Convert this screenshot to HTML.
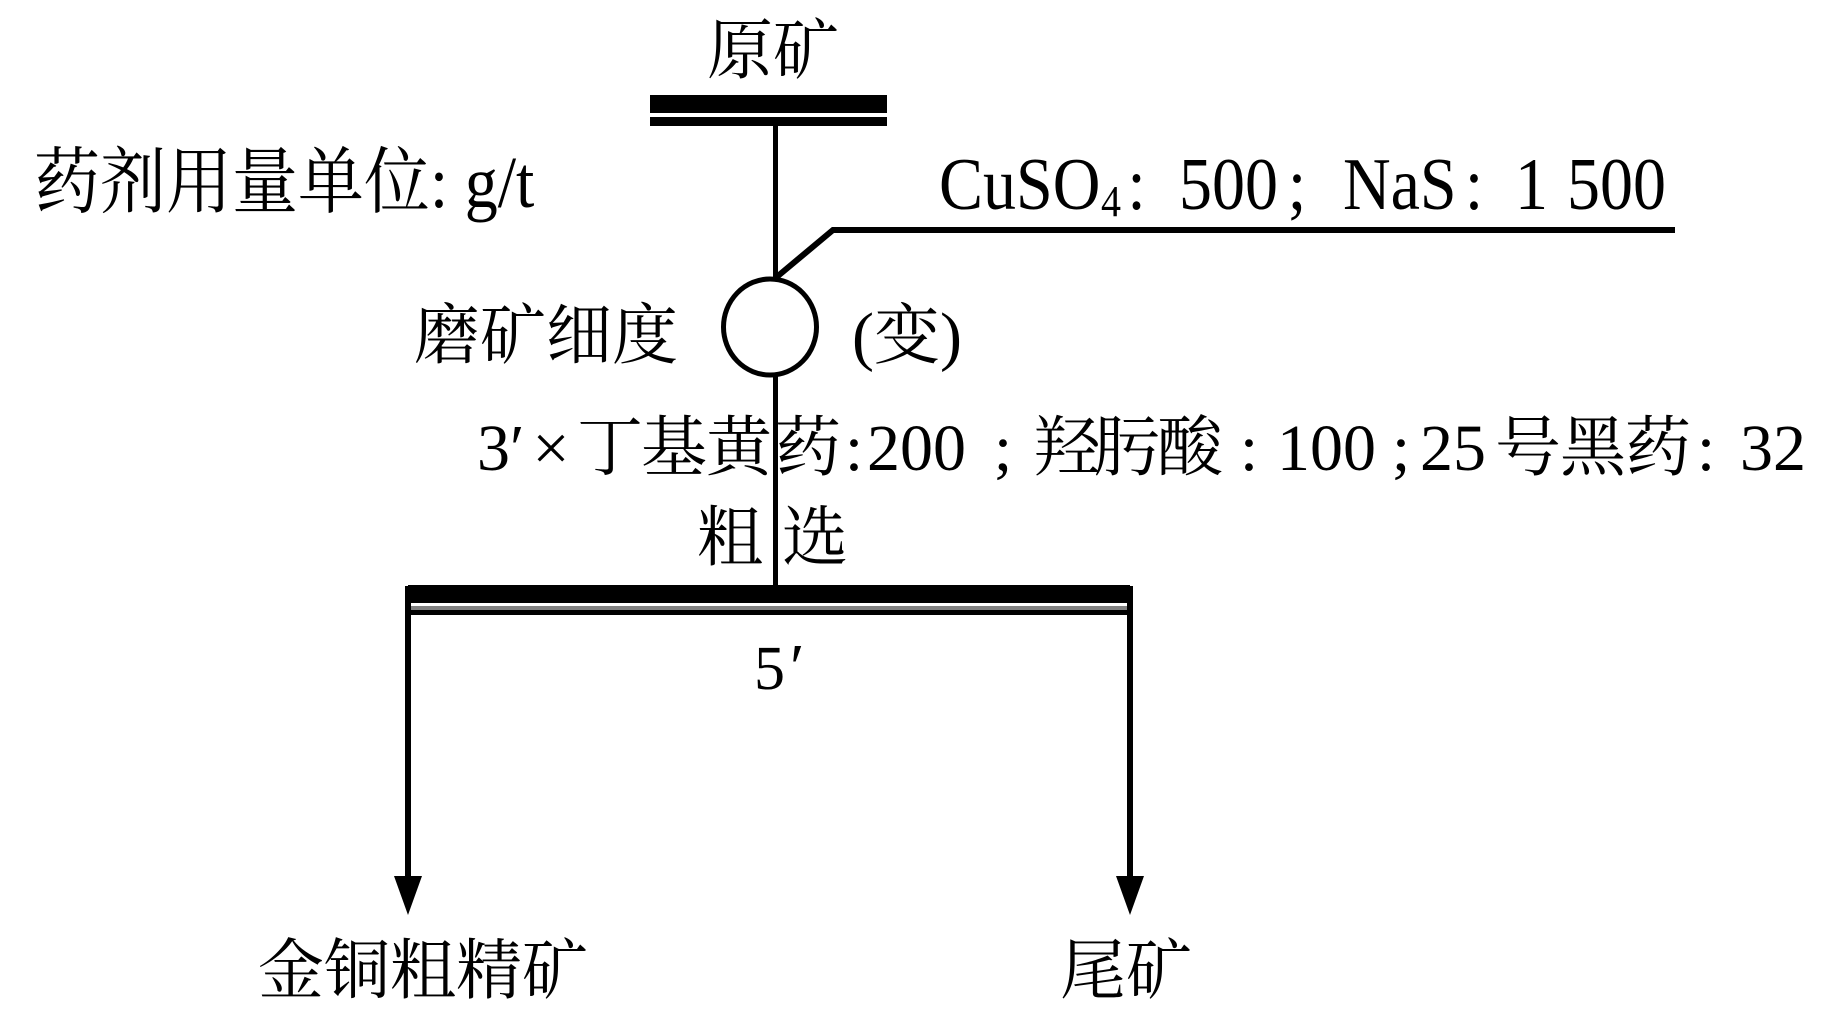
<!DOCTYPE html>
<html>
<head>
<meta charset="utf-8">
<style>
  html, body { margin: 0; padding: 0; background: #fff; }
  svg { display: block; }
  text { font-family: "Liberation Serif", "Noto Serif CJK SC", serif; fill: #000; }
  .cjk { font-family: "Noto Serif CJK SC", "Liberation Serif", serif; }
</style>
</head>
<body>
<svg width="1843" height="1016" viewBox="0 0 1843 1016" xmlns="http://www.w3.org/2000/svg">
  <rect x="0" y="0" width="1843" height="1016" fill="#fff"/>

  <!-- 原矿 -->
  <text x="707" y="73" font-size="66">原矿</text>
  <!-- top double bar -->
  <rect x="650" y="95" width="237" height="18" fill="#000"/>
  <rect x="650" y="117" width="237" height="9" fill="#000"/>

  <!-- vertical from top bar to circle -->
  <line x1="775.5" y1="126" x2="775.5" y2="279" stroke="#000" stroke-width="5"/>

  <!-- reagent feed line -->
  <polyline points="775.5,278 833,230 1675,230" fill="none" stroke="#000" stroke-width="6" stroke-linejoin="miter"/>

  <!-- units label -->
  <g transform="translate(0,207) scale(1,1.1)">
    <text x="34" y="0" font-size="66">药剂用量单位: g/t</text>
  </g>

  <!-- CuSO4 label -->
  <g transform="translate(0,209) scale(1,1.12)">
    <text x="939" y="0" font-size="66">CuSO</text>
    <text x="1101" y="6.25" font-size="40">4</text>
    <text x="1136.5" y="0" font-size="66" text-anchor="middle">:</text>
    <text x="1179" y="0" font-size="66">500</text>
    <text x="1297" y="0" font-size="66" text-anchor="middle">;</text>
    <text x="1343" y="0" font-size="66">NaS</text>
    <text x="1474" y="0" font-size="66" text-anchor="middle">:</text>
    <text x="1515" y="0" font-size="66">1</text>
    <text x="1567" y="0" font-size="66">500</text>
  </g>

  <!-- grinding circle -->
  <ellipse cx="770" cy="327" rx="46.5" ry="48" fill="none" stroke="#000" stroke-width="5"/>
  <text x="414" y="358" font-size="66">磨矿细度</text>
  <text x="852" y="358" font-size="66">(变)</text>

  <!-- vertical from circle to rougher bar -->
  <line x1="775.5" y1="375" x2="775.5" y2="586" stroke="#000" stroke-width="5"/>

  <!-- reagent row -->
  <text x="477" y="470" font-size="66">3′</text>
  <text x="551" y="470" font-size="66" text-anchor="middle">×</text>
  <text x="577 641 706 775" y="470" font-size="66" class="cjk">丁基黄药</text>
  <text x="854" y="470" font-size="66" text-anchor="middle">:</text>
  <text x="867" y="470" font-size="66">200</text>
  <text x="1003" y="470" font-size="66" text-anchor="middle">;</text>
  <text x="1034 1094 1157" y="470" font-size="66" class="cjk">羟肟酸</text>
  <text x="1249" y="470" font-size="66" text-anchor="middle">:</text>
  <text x="1277" y="470" font-size="66">100</text>
  <text x="1401" y="470" font-size="66" text-anchor="middle">;</text>
  <text x="1420" y="470" font-size="66">25</text>
  <text x="1495 1560 1625" y="470" font-size="66" class="cjk">号黑药</text>
  <text x="1706" y="470" font-size="66" text-anchor="middle">:</text>
  <text x="1740" y="470" font-size="66">32</text>

  <!-- 粗 选 -->
  <text x="697" y="560" font-size="66" class="cjk">粗</text>
  <text x="782" y="560" font-size="66" class="cjk">选</text>

  <!-- rougher bar -->
  <rect x="408" y="585" width="722" height="18" fill="#000"/>
  <rect x="411" y="606" width="716" height="4" fill="#808080"/>
  <rect x="408" y="610" width="722" height="5" fill="#000"/>

  <!-- outlet lines -->
  <line x1="408" y1="586" x2="408" y2="880" stroke="#000" stroke-width="6"/>
  <line x1="1130" y1="586" x2="1130" y2="880" stroke="#000" stroke-width="6"/>
  <polygon points="394,876 422,876 408,915" fill="#000"/>
  <polygon points="1116,876 1144,876 1130,915" fill="#000"/>

  <!-- 5′ -->
  <text x="754" y="689" font-size="62">5<tspan x="790" font-size="66">′</tspan></text>

  <!-- products -->
  <text x="258" y="993" font-size="66">金铜粗精矿</text>
  <text x="1060" y="993" font-size="66">尾矿</text>
</svg>
</body>
</html>
